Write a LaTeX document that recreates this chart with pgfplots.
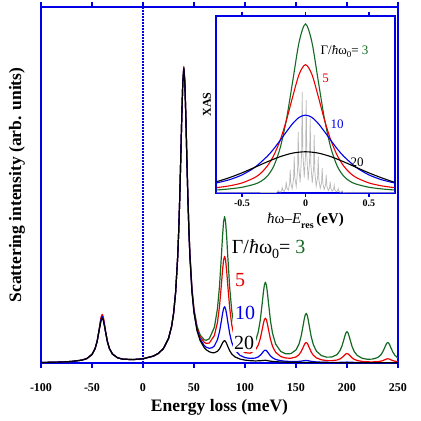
\documentclass[border=0pt]{standalone}
\usepackage{fontspec}
\setmainfont{Liberation Serif}
\usepackage{pgfplots}
\pgfplotsset{compat=1.18}
\definecolor{frameblue}{RGB}{0,0,230}
\definecolor{dkgreen}{RGB}{20,105,35}
\definecolor{cred}{RGB}{235,0,0}
\definecolor{cblue}{RGB}{0,0,235}
\definecolor{xgray}{RGB}{185,185,185}
\begin{document}
\begin{tikzpicture}
\path[use as bounding box] (-41pt,-58pt) rectangle (380pt,363pt);
\begin{axis}[
  at={(0pt,0pt)}, anchor=south west,
  scale only axis, width=357pt, height=356pt,
  xmin=-100, xmax=250, ymin=0, ymax=1,
  axis line style={frameblue, line width=2pt},
  xtick={-100,-50,0,50,100,150,200,250},
  xticklabels={-100,-50,0,50,100,150,200,250},
  ytick=\empty,
  tick align=outside, xtick pos=both,
  major tick length=5pt,
  tick style={frameblue, line width=1.6pt},
  xticklabel style={font=\bfseries\fontsize{12}{12}\selectfont, anchor=base, yshift=-23pt},
  xlabel={Energy loss (meV)},
  xlabel style={font=\bfseries\fontsize{17.5}{17.5}\selectfont, at={(axis description cs:0.5,-0.1376)}, anchor=base},
  ylabel={Scattering intensity (arb. units)},
  ylabel style={font=\bfseries\fontsize{17.5}{17.5}\selectfont, at={(axis description cs:-0.056,0.5)}, anchor=base},
  every axis plot/.append style={line width=1.2pt, line join=round},
]
\addplot[frameblue, line width=1.1pt, dash pattern=on 2pt off 1pt] coordinates {(0,0) (0,1)};
% Gamma/hw0 = 3
\addplot[dkgreen] coordinates {
(-100,0.0015) (-90,0.002) (-80,0.0028) (-70,0.0043) (-60,0.008) (-55,0.0125) (-50,0.024) (-47,0.0402) (-45,0.0605) (-43,0.0924) (-42,0.111) (-41,0.1264) (-40,0.1326) (-39,0.1265) (-38,0.1113) (-37,0.0928) (-35,0.0612) (-33,0.0411) (-30,0.0253) (-25,0.0147) (-20,0.0109) (-10,0.0095) (0,0.0119) (10,0.0192) (15,0.0268) (20,0.0405) (25,0.0687) (28,0.1023) (30,0.1395) (32,0.1989) (34,0.2975) (35,0.3697) (36,0.4613) (37,0.5714) (38,0.6894) (39,0.7867)
(40,0.8326) (41,0.7941) (42,0.6971) (43,0.5795) (44,0.4698) (45,0.3786) (46,0.3069) (48,0.2093) (50,0.1514) (53,0.1033) (56,0.0789) (60,0.0653) (62,0.0639) (65,0.0682) (70,0.1004) (73,0.1523) (75,0.2153) (77,0.3076) (78,0.3575) (79,0.3965) (80,0.4114) (81,0.3958) (82,0.3562) (83,0.3056) (85,0.2119) (87,0.1473) (90,0.0928) (95,0.0545) (100,0.0419) (105,0.0424) (110,0.0591) (113,0.087) (115,0.121) (117,0.171) (118,0.1979) (119,0.2191) (120,0.2272) (121,0.2186) (122,0.1969) (123,0.1694) (125,0.1183) (127,0.0832) (130,0.0534) (135,0.0325) (140,0.0257) (145,0.0264) (150,0.0367) (153,0.0538) (155,0.0746) (157,0.1053) (158,0.1218) (159,0.1347) (160,0.1395) (161,0.1343) (162,0.1211) (163,0.1043) (165,0.0731) (167,0.0517) (170,0.0333) (175,0.0207) (180,0.0164) (185,0.0167) (190,0.0232) (193,0.034) (195,0.0472) (197,0.0663) (198,0.0768) (199,0.0849) (200,0.0879) (201,0.0847) (202,0.0764) (203,0.0659) (205,0.0463) (207,0.0327) (210,0.0213) (215,0.0131) (220,0.0105) (225,0.011) (230,0.0152) (233,0.0223) (235,0.0309) (237,0.0434) (238,0.0502) (239,0.0554) (240,0.0575) (241,0.0554) (242,0.0501) (243,0.0431) (245,0.0304) (247,0.0214) (250,0.0139)};
% Gamma/hw0 = 5
\addplot[cred] coordinates {
(-100,0.0015) (-90,0.002) (-80,0.0028) (-70,0.0043) (-60,0.008) (-55,0.0125) (-50,0.024) (-47,0.0402) (-45,0.0605) (-43,0.0924) (-42,0.1143) (-41,0.1302) (-40,0.1366) (-39,0.1303) (-38,0.1146) (-37,0.0928) (-35,0.0612) (-33,0.0411) (-30,0.0253) (-25,0.0147) (-20,0.0109) (-10,0.0095) (0,0.0119) (10,0.0192) (15,0.0268) (20,0.0405) (25,0.0687) (28,0.1023) (30,0.1395) (32,0.1989) (34,0.2975) (35,0.3697) (36,0.4613) (37,0.5714) (38,0.6894) (39,0.7867)
(40,0.8305) (41,0.7919) (42,0.6949) (43,0.5771) (44,0.4674) (45,0.376) (46,0.3042) (48,0.2063) (50,0.1478) (53,0.0989) (56,0.0736) (60,0.058) (62,0.0551) (65,0.0561) (70,0.0773) (73,0.1138) (75,0.1588) (77,0.2251) (78,0.261) (79,0.2889) (80,0.2996) (81,0.2881) (82,0.2593) (83,0.2225) (85,0.1546) (87,0.1075) (90,0.0678) (95,0.0392) (100,0.0291) (105,0.0275) (110,0.0355) (113,0.0503) (115,0.0686) (117,0.0957) (118,0.1103) (119,0.1218) (120,0.1261) (121,0.1214) (122,0.1093) (123,0.0942) (125,0.0662) (127,0.0468) (130,0.0302) (135,0.0183) (140,0.014) (145,0.0133) (150,0.0169) (153,0.0235) (155,0.0318) (157,0.0439) (158,0.0504) (159,0.0556) (160,0.0575) (161,0.0554) (162,0.0501) (163,0.0431) (165,0.0305) (167,0.0217) (170,0.0143) (175,0.009) (180,0.0068) (185,0.0066) (190,0.0082) (193,0.0113) (195,0.0149) (197,0.0203) (198,0.0234) (199,0.0258) (200,0.0266) (201,0.0256) (202,0.0232) (203,0.02) (205,0.0143) (207,0.0104) (210,0.007) (215,0.0044) (220,0.0033) (225,0.0031) (230,0.0038) (233,0.005) (235,0.0067) (237,0.009) (238,0.0104) (239,0.0114) (240,0.0119) (241,0.0114) (242,0.0104) (243,0.009) (245,0.0067) (247,0.005) (250,0.0038)};
% Gamma/hw0 = 10
\addplot[cblue] coordinates {
(-100,0.0015) (-90,0.002) (-80,0.0028) (-70,0.0043) (-60,0.008) (-55,0.0125) (-50,0.024) (-47,0.0402) (-45,0.0605) (-43,0.0924) (-42,0.1094) (-41,0.1245) (-40,0.1307) (-39,0.1246) (-38,0.1097) (-37,0.0928) (-35,0.0612) (-33,0.0411) (-30,0.0253) (-25,0.0147) (-20,0.0109) (-10,0.0095) (0,0.0119) (10,0.0192) (15,0.0268) (20,0.0405) (25,0.0687) (28,0.1023) (30,0.1395) (32,0.1989) (34,0.2975) (35,0.3697) (36,0.4613) (37,0.5714) (38,0.6894) (39,0.7867)
(40,0.8279) (41,0.7892) (42,0.692) (43,0.5741) (44,0.4642) (45,0.3728) (46,0.3008) (48,0.2025) (50,0.1436) (53,0.0938) (56,0.0672) (60,0.049) (62,0.0443) (65,0.0413) (68,0.0432) (70,0.0482) (73,0.0654) (75,0.0876) (77,0.1208) (78,0.1388) (79,0.1529) (80,0.1581) (81,0.1519) (82,0.1369) (83,0.1179) (85,0.0826) (87,0.0582) (90,0.0371) (95,0.0216) (100,0.0152) (105,0.013) (110,0.0138) (113,0.0172) (115,0.0217) (117,0.0285) (118,0.0322) (119,0.0351) (120,0.0362) (121,0.0348) (122,0.0315) (123,0.0275) (125,0.0199) (127,0.0146) (130,0.0101) (135,0.0065) (140,0.0049) (145,0.0043) (150,0.0041) (155,0.0051) (157,0.0062) (160,0.0073) (163,0.0058) (165,0.0046) (170,0.0029) (180,0.0019) (190,0.0016) (195,0.002) (200,0.0026) (205,0.002) (210,0.0013) (220,0.001) (230,0.0008) (240,0.0008) (250,0.0007)};
% Gamma/hw0 = 20
\addplot[black] coordinates {
(-100,0.0015) (-90,0.002) (-80,0.0028) (-70,0.0043) (-60,0.008) (-55,0.0125) (-50,0.024) (-47,0.0402) (-45,0.0605) (-43,0.0924) (-42,0.1056) (-41,0.1202) (-40,0.1261) (-39,0.1203) (-38,0.1059) (-37,0.0928) (-35,0.0612) (-33,0.0411) (-30,0.0253) (-25,0.0147) (-20,0.0109) (-10,0.0095) (0,0.0119) (10,0.0192) (15,0.0268) (20,0.0405) (25,0.0687) (28,0.1023) (30,0.1395) (32,0.1989) (34,0.2975) (35,0.3697) (36,0.4613) (37,0.5714) (38,0.6894) (39,0.7867)
(40,0.8263) (41,0.7875) (42,0.6903) (43,0.5723) (44,0.4623) (45,0.3707) (46,0.2986) (48,0.2) (50,0.1408) (53,0.0904) (56,0.0631) (60,0.0433) (62,0.0373) (65,0.0315) (68,0.0289) (70,0.0289) (73,0.033) (75,0.0397) (77,0.0505) (78,0.0565) (79,0.0611) (80,0.0627) (81,0.0601) (82,0.0545) (83,0.0474) (85,0.0345) (87,0.0254) (90,0.0174) (95,0.0111) (100,0.0081) (105,0.0066) (110,0.0058) (115,0.0063) (118,0.0072) (120,0.0076) (122,0.0067) (125,0.0051) (130,0.0036) (140,0.0024) (160,0.0015) (200,0.0008) (250,0.0005)};
\fill[white] (axis cs:88.5,0.03) rectangle (axis cs:111,0.36);
\node[anchor=base west, inner sep=0pt, font=\fontsize{20}{20}\selectfont] at (axis cs:87,0.308) {Γ/\textit{ħ}ω\raisebox{-0.55ex}{\fontsize{14}{14}\selectfont 0}= \textcolor{dkgreen}{3}};
\node[anchor=base west, inner sep=0pt, text=cred, font=\fontsize{20}{20}\selectfont] at (axis cs:90.2,0.214) {5};
\node[anchor=base west, inner sep=0pt, text=cblue, font=\fontsize{20}{20}\selectfont] at (axis cs:90.2,0.121) {10};
\node[anchor=base west, inner sep=0pt, text=black, font=\fontsize{20}{20}\selectfont] at (axis cs:89.2,0.0385) {20};
\end{axis}
\begin{axis}[
  at={(175pt,170pt)}, anchor=south west,
  scale only axis, width=179pt, height=177pt,
  xmin=-0.705, xmax=0.705, ymin=0, ymax=1,
  axis background/.style={fill=white},
  axis line style={frameblue, line width=1.5pt},
  xtick={-0.5,0,0.5}, xticklabels={-0.5,0,0.5},
  ytick=\empty,
  tick align=outside, xtick pos=both,
  major tick length=4pt,
  tick style={frameblue, line width=1.3pt},
  xticklabel style={font=\bfseries\fontsize{10}{10}\selectfont, anchor=base, yshift=-10pt},
  xlabel={\textit{ħ}ω–\textit{E}\raisebox{-0.7ex}{\fontsize{10}{10}\selectfont\bfseries res}\,\textbf{(eV)}},
  xlabel style={font=\fontsize{15}{15}\selectfont, at={(axis description cs:0.5,-0.175)}, anchor=base},
  ylabel={XAS},
  ylabel style={font=\bfseries\fontsize{12}{12}\selectfont, at={(axis description cs:-0.028,0.5)}, anchor=base},
]
\addplot[xgray, line width=0.7pt] coordinates {
(-0.70,0.001) (-0.40,0.002) (-0.231,0.003)
(-0.22,0.0066) (-0.215,0.015) (-0.21,0.008) (-0.199,0.005)
(-0.1885,0.0125) (-0.1835,0.03) (-0.1785,0.0153) (-0.168,0.009)
(-0.157,0.0255) (-0.152,0.064) (-0.147,0.0297) (-0.136,0.015)
(-0.1255,0.0495) (-0.1205,0.13) (-0.1155,0.0565) (-0.105,0.025)
(-0.094,0.079) (-0.089,0.205) (-0.084,0.087) (-0.073,0.037)
(-0.0625,0.1297) (-0.0575,0.346) (-0.0525,0.1458) (-0.042,0.06)
(-0.031,0.2136) (-0.026,0.572) (-0.021,0.2325) (-0.010,0.087)
(0.0005,0.2184) (0.0055,0.525) (0.0105,0.2072) (0.021,0.071)
(0.032,0.1763) (0.037,0.422) (0.042,0.1658) (0.053,0.056)
(0.0635,0.1376) (0.0685,0.328) (0.0735,0.1243) (0.084,0.037)
(0.095,0.0874) (0.1,0.205) (0.105,0.0797) (0.116,0.026)
(0.1265,0.0602) (0.1315,0.14) (0.1365,0.056) (0.147,0.020)
(0.158,0.0446) (0.163,0.102) (0.168,0.0404) (0.179,0.014)
(0.1895,0.029) (0.1945,0.064) (0.1995,0.0262) (0.210,0.010)
(0.221,0.0205) (0.226,0.045) (0.231,0.0184) (0.242,0.007)
(0.2525,0.0124) (0.2575,0.025) (0.2625,0.0103) (0.273,0.004)
(0.284,0.0064) (0.289,0.012) (0.294,0.005) (0.305,0.002)
(0.40,0.001) (0.70,0.001)};
\addplot[dkgreen, line width=1.1pt, smooth] coordinates {
(-0.7,0.0171) (-0.6,0.023) (-0.5,0.0324) (-0.4,0.05) (-0.35,0.0664) (-0.3,0.096) (-0.25,0.152) (-0.2,0.2537) (-0.15,0.4165) (-0.1,0.635) (-0.05,0.854) (0,0.955) (0.05,0.854) (0.1,0.635) (0.15,0.4165) (0.2,0.2537) (0.25,0.152) (0.3,0.096) (0.35,0.0664) (0.4,0.05) (0.5,0.0324) (0.6,0.023) (0.7,0.0171)};
\addplot[cred, line width=1.1pt, smooth] coordinates {
(-0.7,0.0303) (-0.6,0.0404) (-0.5,0.0568) (-0.4,0.0871) (-0.35,0.1134) (-0.3,0.1531) (-0.25,0.2125) (-0.2,0.2975) (-0.15,0.4114) (-0.1,0.5466) (-0.05,0.671) (0,0.725) (0.05,0.671) (0.1,0.5466) (0.15,0.4114) (0.2,0.2975) (0.25,0.2125) (0.3,0.1531) (0.35,0.1134) (0.4,0.0871) (0.5,0.0568) (0.6,0.0404) (0.7,0.0303)};
\addplot[cblue, line width=1.1pt, smooth] coordinates {
(-0.7,0.057) (-0.6,0.0749) (-0.5,0.1023) (-0.4,0.1445) (-0.3,0.2082) (-0.25,0.2496) (-0.2,0.2966) (-0.15,0.3464) (-0.1,0.393) (-0.05,0.4272) (0,0.44) (0.05,0.4272) (0.1,0.393) (0.15,0.3464) (0.2,0.2966) (0.25,0.2496) (0.3,0.2082) (0.4,0.1445) (0.5,0.1023) (0.6,0.0749) (0.7,0.057)};
\addplot[black, line width=1.1pt, smooth] coordinates {
(-0.7,0.064) (-0.6,0.0866) (-0.5,0.1139) (-0.4,0.1449) (-0.3,0.1766) (-0.2,0.2052) (-0.1,0.2255) (0,0.233) (0.1,0.2255) (0.2,0.2052) (0.3,0.1766) (0.4,0.1447) (0.5,0.1134) (0.6,0.0856) (0.7,0.0606)};
\node[anchor=base west, inner sep=0pt, font=\fontsize{13}{13}\selectfont] at (axis cs:0.118,0.785) {Γ/\textit{ħ}ω\raisebox{-0.55ex}{\fontsize{9}{9}\selectfont 0}= \textcolor{dkgreen}{3}};
\node[anchor=base west, inner sep=0pt, text=cred, font=\fontsize{13}{13}\selectfont] at (axis cs:0.131,0.627) {5};
\node[anchor=base west, inner sep=0pt, text=cblue, font=\fontsize{13}{13}\selectfont] at (axis cs:0.197,0.367) {10};
\node[anchor=base west, inner sep=0pt, text=black, font=\fontsize{13}{13}\selectfont] at (axis cs:0.354,0.147) {20};
\end{axis}
\end{tikzpicture}
\end{document}
